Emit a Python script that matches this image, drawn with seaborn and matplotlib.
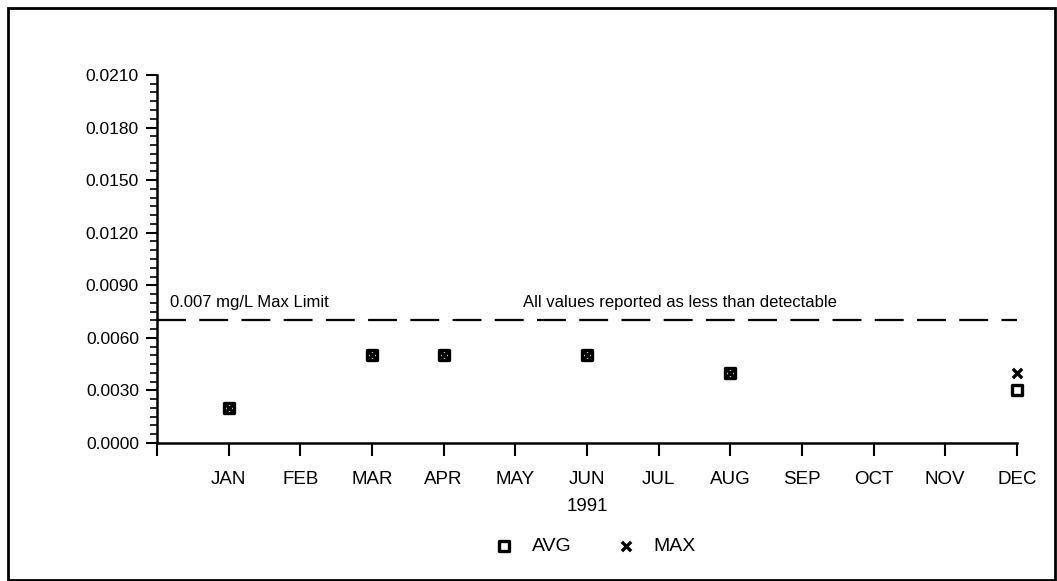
import numpy as np
import pandas as pd
import matplotlib
matplotlib.use('Agg')
import matplotlib.pyplot as plt
from matplotlib.ticker import MultipleLocator, FormatStrFormatter
from matplotlib.patches import Rectangle
import seaborn as sns

# Data
months = ['JAN', 'FEB', 'MAR', 'APR', 'MAY', 'JUN', 'JUL', 'AUG', 'SEP', 'OCT', 'NOV', 'DEC']
sample_months = ['JAN', 'MAR', 'APR', 'JUN', 'AUG', 'DEC']
avg_values = [0.002, 0.005, 0.005, 0.005, 0.004, 0.003]
max_values = [0.002, 0.005, 0.005, 0.005, 0.004, 0.004]
max_limit = 0.007

month_pos = {m: i + 1 for i, m in enumerate(months)}
df = pd.DataFrame({
    'month': [month_pos[m] for m in sample_months] * 2,
    'value': avg_values + max_values,
    'series': ['AVG'] * len(avg_values) + ['MAX'] * len(max_values),
})

sns.set_style('white')
plt.rcParams['font.family'] = ['Liberation Sans', 'DejaVu Sans']
plt.rcParams['text.color'] = 'black'
plt.rcParams['xtick.color'] = 'black'
plt.rcParams['ytick.color'] = 'black'
plt.rcParams['axes.labelcolor'] = 'black'

fig = plt.figure(figsize=(10.57, 5.81), dpi=100)
ax = fig.add_axes([0.1485, 0.2375, 0.8135, 0.6335])

# frame around the whole picture
fig.patches.append(Rectangle((0.008, 0.002), 0.99, 0.984, transform=fig.transFigure,
                             fill=False, edgecolor='black', linewidth=2))

sns.scatterplot(data=df[df.series == 'AVG'], x='month', y='value', marker='s', s=55,
                facecolor='white', edgecolor='black', linewidth=2.4, ax=ax, label='AVG',
                zorder=3, clip_on=False)
sns.scatterplot(data=df[df.series == 'MAX'], x='month', y='value', marker='x', s=45,
                color='black', linewidth=2.4, ax=ax, label='MAX', zorder=4, clip_on=False)

ax.axhline(max_limit, color='black', linewidth=1.6, linestyle=(0, (13, 6)))
ax.text(0.18, 0.0076, '0.007 mg/L Max Limit', fontsize=12, ha='left', va='bottom')
ax.text(7.3, 0.0076, 'All values reported as less than detectable', fontsize=12,
        ha='center', va='bottom')

ax.set_xlim(0, 12)
ax.set_ylim(0, 0.021)
ax.set_xticks([0] + list(range(1, 13)))
ax.set_xticklabels([''] + months)
ax.yaxis.set_major_locator(MultipleLocator(0.003))
ax.yaxis.set_minor_locator(MultipleLocator(0.0005))
ax.yaxis.set_major_formatter(FormatStrFormatter('%.4f'))
ax.tick_params(axis='x', direction='out', length=9, width=1.5, labelsize=13.5, pad=11,
               bottom=True)
ax.tick_params(axis='y', which='major', direction='out', length=8, width=1.5,
               labelsize=12.5, pad=5, left=True)
ax.tick_params(axis='y', which='minor', direction='out', length=5, width=1.2, left=True)

for side in ['top', 'right']:
    ax.spines[side].set_visible(False)
for side in ['left', 'bottom']:
    ax.spines[side].set_linewidth(1.8)
    ax.spines[side].set_color('black')

ax.set_xlabel('1991', fontsize=13.5, labelpad=7)
ax.set_ylabel('')

handles, labels = ax.get_legend_handles_labels()
ax.get_legend().remove()
fig.legend(handles, labels, loc='center', bbox_to_anchor=(0.562, 0.06), ncol=2,
           frameon=False, fontsize=14, columnspacing=2.2, handlelength=1.2,
           handletextpad=0.8)

fig.savefig('out.png', dpi=100)
